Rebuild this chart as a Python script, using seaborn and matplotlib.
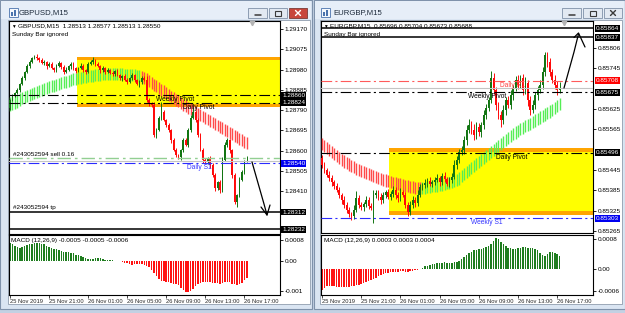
import numpy as np
import pandas as pd
import matplotlib
matplotlib.use("Agg")
import matplotlib.pyplot as plt
import seaborn as sns
from matplotlib.patches import Rectangle
from matplotlib.lines import Line2D

# ======================= DATA =======================
time_labels = ["25 Nov 2019", "25 Nov 21:00", "26 Nov 01:00", "26 Nov 05:00",
               "26 Nov 09:00", "26 Nov 13:00", "26 Nov 17:00"]
time_label_bars = [0, 16, 32, 48, 64, 80, 96]
zone_start_bar = 28  # 26 Nov 00:00

# ---- GBPUSD M15 ----
gbp_last_ohlc = [1.28513, 1.28577, 1.28513, 1.28550]
gbp_first_open = 1.28800
gbp_close = [
    1.28837, 1.28856, 1.28870, 1.28884, 1.28912, 1.28940, 1.28968, 1.28996, 1.29015, 1.29034,
    1.29039, 1.29034, 1.29025, 1.29011, 1.29015, 1.28996, 1.29006, 1.28987, 1.28978, 1.28996,
    1.29011, 1.28992, 1.28968, 1.28978, 1.28996, 1.29006, 1.28987, 1.28973, 1.28987, 1.28996,
    1.28978, 1.28968, 1.29006, 1.29015, 1.29025, 1.29006, 1.28996, 1.28978, 1.28987, 1.28968,
    1.28978, 1.28964, 1.28959, 1.28973, 1.28954, 1.28940, 1.28950, 1.28931, 1.28921, 1.28940,
    1.28954, 1.28931, 1.28912, 1.28921, 1.28940, 1.28931, 1.28837, 1.28823, 1.28814, 1.28673,
    1.28696, 1.28753, 1.28781, 1.28743, 1.28720, 1.28696, 1.28649, 1.28602, 1.28579, 1.28570,
    1.28602, 1.28649, 1.28626, 1.28696, 1.28753, 1.28781, 1.28743, 1.28673, 1.28602, 1.28556,
    1.28546, 1.28565, 1.28532, 1.28485, 1.28424, 1.28452, 1.28415, 1.28556, 1.28626, 1.28649,
    1.28602, 1.28485, 1.28359, 1.28391, 1.28462, 1.28499, 1.28546, 1.28550]
gbp_wick_up_pts = [
    5, 8, 6, 10, 5, 8, 6, 12, 8, 6,
    10, 14, 6, 8, 10, 5, 8, 12, 6, 10,
    8, 6, 10, 12, 6, 8, 10, 5, 6, 14,
    8, 6, 10, 8, 12, 6, 8, 5, 10, 6,
    8, 6, 10, 5, 8, 6, 5, 8, 10, 6,
    8, 5, 6, 8, 10, 12, 20, 8, 6, 15,
    10, 8, 45, 10, 6, 8, 5, 8, 10, 6,
    8, 12, 10, 8, 15, 20, 6, 10, 8, 12,
    10, 6, 8, 10, 8, 6, 10, 12, 15, 10,
    6, 8, 10, 6, 12, 8, 10, 27]
gbp_wick_dn_pts = [
    8, 5, 6, 5, 8, 6, 10, 5, 8, 6,
    5, 8, 10, 6, 8, 12, 6, 5, 10, 8,
    6, 10, 8, 5, 6, 12, 8, 10, 6, 5,
    10, 8, 6, 5, 8, 10, 6, 12, 8, 10,
    6, 5, 8, 10, 6, 8, 12, 6, 8, 5,
    10, 8, 6, 12, 8, 6, 8, 15, 10, 8,
    12, 6, 8, 5, 10, 8, 12, 6, 8, 10,
    15, 8, 6, 10, 8, 5, 8, 10, 6, 15,
    8, 10, 12, 8, 15, 10, 12, 8, 6, 10,
    12, 15, 10, 25, 8, 6, 10, 0]
gbp_ha_open = [
    1.28785, 1.28791, 1.28797, 1.28802, 1.28810, 1.28817, 1.28822, 1.28827, 1.28831, 1.28836,
    1.28842, 1.28847, 1.28851, 1.28856, 1.28861, 1.28865, 1.28869, 1.28873, 1.28877, 1.28880,
    1.28884, 1.28888, 1.28892, 1.28895, 1.28899, 1.28903, 1.28906, 1.28908, 1.28911, 1.28914,
    1.28917, 1.28919, 1.28921, 1.28923, 1.28924, 1.28926, 1.28927, 1.28928, 1.28929, 1.28930,
    1.28931, 1.28931, 1.28931, 1.28931, 1.28931, 1.28931, 1.28930, 1.28929, 1.28928, 1.28927,
    1.28926, 1.28925, 1.28923, 1.28922, 1.28973, 1.28968, 1.28962, 1.28954, 1.28946, 1.28938,
    1.28930, 1.28922, 1.28914, 1.28906, 1.28898, 1.28890, 1.28882, 1.28874, 1.28866, 1.28859,
    1.28852, 1.28844, 1.28837, 1.28830, 1.28823, 1.28816, 1.28809, 1.28802, 1.28795, 1.28788,
    1.28781, 1.28774, 1.28767, 1.28760, 1.28753, 1.28746, 1.28739, 1.28732, 1.28725, 1.28718,
    1.28711, 1.28704, 1.28697, 1.28690, 1.28683, 1.28676, 1.28669, 1.28663]
gbp_ha_close = [
    1.28851, 1.28855, 1.28859, 1.28862, 1.28868, 1.28875, 1.28880, 1.28885, 1.28889, 1.28894,
    1.28898, 1.28903, 1.28907, 1.28912, 1.28917, 1.28921, 1.28925, 1.28929, 1.28933, 1.28936,
    1.28940, 1.28944, 1.28948, 1.28951, 1.28955, 1.28959, 1.28962, 1.28964, 1.28967, 1.28970,
    1.28973, 1.28975, 1.28977, 1.28979, 1.28980, 1.28982, 1.28983, 1.28984, 1.28985, 1.28986,
    1.28987, 1.28987, 1.28987, 1.28987, 1.28987, 1.28987, 1.28986, 1.28985, 1.28984, 1.28983,
    1.28982, 1.28981, 1.28979, 1.28978, 1.28917, 1.28912, 1.28906, 1.28898, 1.28890, 1.28882,
    1.28874, 1.28866, 1.28858, 1.28850, 1.28842, 1.28834, 1.28826, 1.28818, 1.28810, 1.28803,
    1.28796, 1.28788, 1.28781, 1.28774, 1.28767, 1.28760, 1.28753, 1.28746, 1.28739, 1.28732,
    1.28725, 1.28718, 1.28711, 1.28704, 1.28697, 1.28690, 1.28683, 1.28676, 1.28669, 1.28662,
    1.28655, 1.28648, 1.28641, 1.28634, 1.28627, 1.28620, 1.28613, 1.28607]
gbp_macd = [
    0.00059, 0.00057, 0.00048, 0.00045, 0.00044, 0.00045, 0.00048, 0.00053, 0.00055, 0.00057,
    0.00058, 0.00059, 0.00058, 0.00057, 0.00055, 0.00051, 0.00047, 0.00042, 0.00040, 0.00039,
    0.00037, 0.00033, 0.00031, 0.00030, 0.00029, 0.00027, 0.00025, 0.00021, 0.00018, 0.00016,
    0.00013, 0.00009, 0.00006, 0.00005, 0.00006, 0.00008, 0.00009, 0.00008, 0.00006, 0.00004,
    0.00004, 0.00003, 0.00003, 0.00001, -0.00001, -0.00002, -0.00004, -0.00006, -0.00008, -0.00011,
    -0.00013, -0.00012, -0.00010, -0.00009, -0.00010, -0.00013, -0.00016, -0.00022, -0.00030, -0.00040,
    -0.00052, -0.00060, -0.00066, -0.00068, -0.00070, -0.00072, -0.00074, -0.00076, -0.00078, -0.00082,
    -0.00090, -0.00098, -0.00104, -0.00105, -0.00100, -0.00093, -0.00085, -0.00078, -0.00074, -0.00072,
    -0.00071, -0.00072, -0.00071, -0.00073, -0.00075, -0.00074, -0.00076, -0.00075, -0.00070, -0.00069,
    -0.00072, -0.00076, -0.00078, -0.00080, -0.00077, -0.00074, -0.00065, -0.00058]
gbp_macd_header = ["-0.0005", "-0.0005", "-0.0006"]
gbp_zone = [1.29038, 1.28803]
gbp_weekly_pivot = 1.28860
gbp_daily_pivot = 1.28824
gbp_sell_entry = 1.28565
gbp_bid = 1.28550
gbp_daily_s1 = 1.28540
gbp_tp = 1.28312
gbp_low_line = 1.28232
gbp_price_ticks = [1.29170, 1.29075, 1.28980, 1.28885, 1.28790, 1.28695, 1.28600, 1.28505, 1.28410]
gbp_macd_ticks = [0.00071, 0.0, -0.001]
gbp_macd_ticklabels = ["0.0008", "0.00", "-0.001"]

# ---- EURGBP M15 ----
eur_last_ohlc = [0.85696, 0.85704, 0.85673, 0.85688]
eur_first_open = 0.85480
eur_close = [
    0.85460, 0.85445, 0.85431, 0.85422, 0.85410, 0.85398, 0.85386, 0.85371, 0.85357, 0.85342,
    0.85327, 0.85315, 0.85309, 0.85327, 0.85362, 0.85342, 0.85336, 0.85345, 0.85357, 0.85339,
    0.85333, 0.85371, 0.85377, 0.85365, 0.85357, 0.85371, 0.85380, 0.85365, 0.85374, 0.85386,
    0.85371, 0.85362, 0.85380, 0.85371, 0.85342, 0.85321, 0.85342, 0.85357, 0.85348, 0.85371,
    0.85395, 0.85401, 0.85407, 0.85413, 0.85404, 0.85410, 0.85416, 0.85422, 0.85410, 0.85428,
    0.85419, 0.85404, 0.85416, 0.85425, 0.85460, 0.85475, 0.85498, 0.85504, 0.85534, 0.85563,
    0.85577, 0.85563, 0.85548, 0.85572, 0.85557, 0.85577, 0.85607, 0.85628, 0.85652, 0.85717,
    0.85681, 0.85637, 0.85607, 0.85592, 0.85622, 0.85652, 0.85637, 0.85666, 0.85687, 0.85711,
    0.85696, 0.85717, 0.85681, 0.85702, 0.85652, 0.85622, 0.85637, 0.85666, 0.85681, 0.85696,
    0.85734, 0.85784, 0.85764, 0.85734, 0.85711, 0.85696, 0.85681, 0.85688]
eur_wick_up_pts = [
    10, 8, 6, 12, 8, 6, 10, 8, 6, 12,
    8, 10, 6, 15, 20, 8, 10, 6, 12, 8,
    10, 15, 8, 10, 12, 8, 6, 10, 8, 12,
    10, 8, 12, 6, 10, 8, 12, 10, 8, 15,
    8, 6, 10, 8, 12, 6, 8, 10, 6, 8,
    10, 6, 8, 12, 15, 10, 8, 12, 10, 15,
    20, 12, 18, 15, 12, 10, 15, 12, 10, 20,
    15, 10, 8, 12, 15, 10, 12, 15, 10, 12,
    15, 10, 12, 18, 10, 12, 15, 10, 12, 15,
    15, 9, 10, 12, 10, 15, 12, 16]
eur_wick_dn_pts = [
    8, 10, 6, 8, 12, 10, 6, 8, 12, 10,
    8, 10, 12, 8, 6, 10, 8, 12, 10, 8,
    6, 45, 10, 8, 12, 10, 8, 6, 10, 8,
    12, 10, 8, 6, 10, 12, 8, 10, 12, 8,
    6, 10, 8, 12, 6, 10, 8, 6, 12, 10,
    8, 6, 10, 8, 6, 12, 8, 10, 12, 15,
    10, 12, 15, 10, 12, 15, 10, 12, 10, 8,
    12, 15, 10, 20, 12, 15, 10, 12, 15, 10,
    12, 10, 15, 12, 18, 15, 10, 12, 15, 10,
    12, 10, 15, 12, 10, 12, 15, 8]
eur_ha_open = [
    0.85540, 0.85534, 0.85528, 0.85522, 0.85516, 0.85510, 0.85505, 0.85499, 0.85493, 0.85488,
    0.85484, 0.85479, 0.85475, 0.85471, 0.85467, 0.85463, 0.85460, 0.85457, 0.85454, 0.85451,
    0.85449, 0.85446, 0.85443, 0.85440, 0.85437, 0.85434, 0.85432, 0.85430, 0.85427, 0.85425,
    0.85423, 0.85421, 0.85420, 0.85418, 0.85416, 0.85415, 0.85414, 0.85413, 0.85411, 0.85410,
    0.85410, 0.85374, 0.85375, 0.85377, 0.85378, 0.85379, 0.85380, 0.85381, 0.85383, 0.85384,
    0.85386, 0.85388, 0.85389, 0.85392, 0.85395, 0.85398, 0.85402, 0.85410, 0.85415, 0.85421,
    0.85427, 0.85433, 0.85439, 0.85445, 0.85451, 0.85457, 0.85463, 0.85469, 0.85474, 0.85480,
    0.85486, 0.85492, 0.85498, 0.85504, 0.85510, 0.85516, 0.85522, 0.85528, 0.85533, 0.85538,
    0.85542, 0.85547, 0.85551, 0.85556, 0.85560, 0.85564, 0.85569, 0.85573, 0.85578, 0.85582,
    0.85587, 0.85591, 0.85595, 0.85600, 0.85604, 0.85610, 0.85616, 0.85622]
eur_ha_close = [
    0.85504, 0.85498, 0.85492, 0.85486, 0.85480, 0.85474, 0.85469, 0.85463, 0.85457, 0.85452,
    0.85448, 0.85443, 0.85439, 0.85435, 0.85431, 0.85427, 0.85424, 0.85421, 0.85418, 0.85415,
    0.85413, 0.85410, 0.85407, 0.85404, 0.85401, 0.85398, 0.85396, 0.85394, 0.85391, 0.85389,
    0.85387, 0.85385, 0.85384, 0.85382, 0.85380, 0.85379, 0.85378, 0.85377, 0.85375, 0.85374,
    0.85374, 0.85410, 0.85411, 0.85413, 0.85414, 0.85415, 0.85416, 0.85417, 0.85419, 0.85420,
    0.85422, 0.85424, 0.85425, 0.85428, 0.85431, 0.85434, 0.85438, 0.85446, 0.85451, 0.85457,
    0.85463, 0.85469, 0.85475, 0.85481, 0.85487, 0.85493, 0.85499, 0.85505, 0.85510, 0.85516,
    0.85522, 0.85528, 0.85534, 0.85540, 0.85546, 0.85552, 0.85558, 0.85564, 0.85569, 0.85574,
    0.85578, 0.85583, 0.85587, 0.85592, 0.85596, 0.85600, 0.85605, 0.85609, 0.85614, 0.85618,
    0.85623, 0.85627, 0.85631, 0.85636, 0.85640, 0.85646, 0.85652, 0.85658]
eur_macd = [
    -0.00057, -0.00051, -0.00047, -0.00046, -0.00046, -0.00047, -0.00048, -0.00048, -0.00049, -0.00049,
    -0.00048, -0.00048, -0.00047, -0.00046, -0.00044, -0.00042, -0.00040, -0.00037, -0.00035, -0.00032,
    -0.00029, -0.00026, -0.00023, -0.00020, -0.00017, -0.00014, -0.00012, -0.00011, -0.00009, -0.00009,
    -0.00008, -0.00007, -0.00006, -0.00006, -0.00007, -0.00008, -0.00006, -0.00005, -0.00004, -0.00003,
    -0.00001, 0.00004, 0.00007, 0.00009, 0.00011, 0.00013, 0.00014, 0.00016, 0.00016, 0.00017,
    0.00018, 0.00017, 0.00016, 0.00016, 0.00018, 0.00020, 0.00022, 0.00026, 0.00032, 0.00038,
    0.00043, 0.00047, 0.00050, 0.00052, 0.00054, 0.00055, 0.00057, 0.00059, 0.00062, 0.00068,
    0.00077, 0.00083, 0.00080, 0.00074, 0.00068, 0.00061, 0.00057, 0.00056, 0.00055, 0.00054,
    0.00056, 0.00058, 0.00059, 0.00059, 0.00057, 0.00058, 0.00056, 0.00054, 0.00050, 0.00044,
    0.00037, 0.00034, 0.00040, 0.00045, 0.00046, 0.00044, 0.00041, 0.00036]
eur_macd_header = ["0.0003", "0.0003", "0.0004"]
eur_zone = [0.85510, 0.85312]
eur_line_top = 0.85864
eur_line_target = 0.85837
eur_daily_r1 = 0.85708
eur_bid = 0.85688
eur_weekly_pivot = 0.85675
eur_daily_pivot = 0.85496
eur_weekly_s1 = 0.85303
eur_price_ticks = [0.85806, 0.85745, 0.85625, 0.85565, 0.85445, 0.85385, 0.85325, 0.85265]
eur_macd_ticks = [0.0008, 0.0, -0.0006]
eur_macd_ticklabels = ["0.0008", "0.00", "-0.0006"]

# ======================= STYLE / FIGURE =======================
sns.set_style("white")
plt.rcParams['font.family'] = ['Liberation Sans', 'DejaVu Sans']

W, H = 625, 313
fig = plt.figure(figsize=(W / 100, H / 100), dpi=100)
fig.patch.set_facecolor('#c3d1e3')

FS = 4.6
FS_TIME = 4.15
BULL, BEAR = '#127512', '#ff0a0a'
HA_UP, HA_DN = '#55ee55', '#ff4a4a'
DASHDOT = (0, (9.6, 2.9, 1.9, 2.9))


def fx(x):
    return x / W


def fy(y):
    return 1 - y / H


def rect(x0, y0, x1, y1, fc, ec='none', lw=0.0, z=-5):
    fig.add_artist(Rectangle((fx(x0), fy(y1)), (x1 - x0) / W, (y1 - y0) / H,
                             transform=fig.transFigure, facecolor=fc,
                             edgecolor=ec, linewidth=lw, zorder=z))


def ftext(x, y, s, size=FS, color='black', ha='left', **kw):
    fig.text(fx(x), fy(y), s, fontsize=size, color=color, va='center', ha=ha, **kw)


def fline(pts, lw=0.9, color='black', z=20):
    fig.add_artist(Line2D([fx(p[0]) for p in pts], [fy(p[1]) for p in pts],
                          transform=fig.transFigure, color=color, lw=lw, zorder=z,
                          solid_capstyle='round', solid_joinstyle='round'))


# ---- window chrome ----
windows = [dict(x0=0, x1=312, cx0=8, cx1=310, title='GBPUSD,M15', tx=19,
                buttons=[(248, 267), (269, 287), (289, 307)], red=True),
           dict(x0=314, x1=625, cx0=320, cx1=622, title='EURGBP,M15', tx=333,
                buttons=[(562, 581), (583, 602), (604, 622)], red=False)]
for w in windows:
    rect(w['x0'], 0, w['x1'], 309, '#dae5f2', ec='#7f92ab', lw=0.8, z=-6)
    rect(w['x0'] + 1, 1, w['x1'] - 1, 19, '#e6eef8', z=-5.5)
    rect(w['cx0'], 20, w['cx1'], 304, 'white', ec='#8f9cad', lw=0.6, z=-5)
    ix = w['cx0'] + 1
    rect(ix, 8, ix + 9, 17, '#f4f8fd', ec='#4a73ad', lw=0.6, z=-4)
    rect(ix + 2, 12, ix + 4, 16, '#4a73ad', z=-3.5)
    rect(ix + 5, 10, ix + 7, 16, '#4a73ad', z=-3.5)
    ftext(w['tx'], 13, w['title'], size=5.6, color='#1d2a3a')
    for k, (bx0, bx1) in enumerate(w['buttons']):
        is_close = (k == 2 and w['red'])
        rect(bx0, 8, bx1, 18, '#c8463c' if is_close else '#e2e9f2',
             ec='#7a3a35' if is_close else '#7f91a8', lw=0.6, z=-4)
        cx = (bx0 + bx1) / 2
        gc = 'white' if is_close else '#3a3a3a'
        if k == 0:
            fline([(cx - 3, 15.2), (cx + 3, 15.2)], lw=1.1, color=gc)
        elif k == 1:
            rect(cx - 3, 10.5, cx + 3, 15.5, 'none', ec=gc, lw=0.8, z=21)
        else:
            fline([(cx - 2.5, 10.5), (cx + 2.5, 15.5)], lw=1.0, color=gc)
            fline([(cx - 2.5, 15.5), (cx + 2.5, 10.5)], lw=1.0, color=gc)

# ---- axes ----
axL = fig.add_axes([fx(9), fy(234), 271 / W, 213 / H])
axLm = fig.add_axes([fx(9), fy(295), 271 / W, 60 / H])
axR = fig.add_axes([fx(321), fy(233), 272 / W, 212 / H])
axRm = fig.add_axes([fx(321), fy(295), 272 / W, 60 / H])
XLIM = (-0.41, 110.6)


def style_axes(ax):
    ax.set_facecolor('white')
    for s in ax.spines.values():
        s.set_color('black')
        s.set_linewidth(0.8)
    ax.yaxis.tick_right()
    ax.tick_params(axis='y', length=2, width=0.6, pad=1.5, labelsize=FS,
                   colors='black', direction='out', right=True, left=False)
    ax.set_xlim(*XLIM)


def draw_candles(ax, first_open, close, wup, wdn):
    c = np.asarray(close, dtype=float)
    o = np.r_[first_open, c[:-1]]
    hi = np.maximum(o, c) + np.asarray(wup) * 1e-5
    lo = np.minimum(o, c) - np.asarray(wdn) * 1e-5
    x = np.arange(len(c))
    col = np.where(c >= o, BULL, BEAR)
    ax.vlines(x, lo, hi, colors=col, lw=0.7, zorder=4)
    body = np.maximum(np.abs(c - o), 0.00002)
    ax.bar(x, body, bottom=np.minimum(o, c), width=0.7, color=col, lw=0, zorder=5)


def draw_ha(ax, ha_o, ha_c):
    ho, hc = np.asarray(ha_o), np.asarray(ha_c)
    x = np.arange(len(ho))
    col = np.where(hc >= ho, HA_UP, HA_DN)
    ax.vlines(x, np.minimum(ho, hc), np.maximum(ho, hc), colors=col, lw=1.0, zorder=3)


def draw_zone(ax, zone, strip):
    top, bot = zone
    ax.add_patch(Rectangle((zone_start_bar - 0.5, bot), 300, top - bot,
                           facecolor='#ffff00', edgecolor='none', zorder=1))
    ax.add_patch(Rectangle((zone_start_bar - 0.5, top - strip), 300, strip,
                           facecolor='#ffa500', edgecolor='none', zorder=1.5))
    ax.add_patch(Rectangle((zone_start_bar - 0.5, bot), 300, strip,
                           facecolor='#ffa500', edgecolor='none', zorder=1.5))


def level(ax, y, color, ls, lw=0.8):
    ax.axhline(y, color=color, ls=ls, lw=lw, zorder=6)


def level_text(ax, bar, y, s, color='black'):
    ax.annotate(s, (bar, y), xytext=(0, -0.6), textcoords='offset points',
                va='top', ha='left', fontsize=FS + 0.2, color=color, zorder=7)


def box(ax, y, s, fc, xpos=1.008):
    ax.text(xpos, y, s, transform=ax.get_yaxis_transform(), fontsize=FS,
            color='white', va='center', ha='left', zorder=10, clip_on=False,
            bbox=dict(boxstyle='square,pad=0.15', fc=fc, ec='none'))


def macd_panel(ax, values, ylim, ticks, ticklabels):
    df = pd.DataFrame({'bar': np.arange(len(values)), 'macd': values})
    df['sign'] = np.where(df['macd'] >= 0, 'pos', 'neg')
    sns.barplot(data=df, x='bar', y='macd', hue='sign',
                palette={'pos': '#1f7d1f', 'neg': '#ff1212'},
                native_scale=True, dodge=False, width=0.62, saturation=1,
                errorbar=None, legend=False, linewidth=0, ax=ax)
    ax.set_xlabel('')
    ax.set_ylabel('')
    style_axes(ax)
    ax.set_ylim(*ylim)
    ax.set_yticks(ticks)
    ax.set_yticklabels(ticklabels)
    ax.set_xticks(time_label_bars)
    ax.set_xticklabels(time_labels, ha='left')
    ax.tick_params(axis='x', length=2, width=0.6, pad=1, labelsize=FS_TIME,
                   direction='out', bottom=True)


# ---------------- GBPUSD ----------------
style_axes(axL)
axL.set_ylim(1.28209, 1.29208)
axL.set_xticks([])
axL.set_yticks(gbp_price_ticks)
axL.set_yticklabels([f'{v:.5f}' for v in gbp_price_ticks])
draw_zone(axL, gbp_zone, 0.00014)
draw_ha(axL, gbp_ha_open, gbp_ha_close)
draw_candles(axL, gbp_first_open, gbp_close, gbp_wick_up_pts, gbp_wick_dn_pts)
level(axL, gbp_weekly_pivot, 'black', DASHDOT)
level(axL, gbp_daily_pivot, 'black', DASHDOT)
level(axL, gbp_sell_entry, '#92cf92', DASHDOT, lw=1.0)
level(axL, gbp_bid, '#c4c4c4', '-', lw=0.8)
level(axL, gbp_daily_s1, '#2b2bff', DASHDOT)
level(axL, gbp_tp, 'black', '-', lw=1.1)
level(axL, gbp_low_line, 'black', '-', lw=1.1)
level_text(axL, 60, gbp_weekly_pivot, 'Weekly Pivot')
level_text(axL, 71, gbp_daily_pivot, 'Daily Pivot')
level_text(axL, 72.5, gbp_daily_s1, 'Daily S1', color='#3535ff')
box(axL, gbp_weekly_pivot, f'{gbp_weekly_pivot:.5f}', 'black')
box(axL, gbp_daily_pivot, f'{gbp_daily_pivot:.5f}', 'black')
box(axL, gbp_daily_s1, f'{gbp_daily_s1:.5f}', '#0000f0')
box(axL, gbp_tp, f'{gbp_tp:.5f}', 'black')
box(axL, gbp_low_line, f'{gbp_low_line:.5f}', 'black')
macd_panel(axLm, gbp_macd, (-0.00114, 0.00086), gbp_macd_ticks, gbp_macd_ticklabels)

# ---------------- EURGBP ----------------
style_axes(axR)
axR.set_ylim(0.85259, 0.85885)
axR.set_xticks([])
axR.set_yticks(eur_price_ticks)
axR.set_yticklabels([f'{v:.5f}' for v in eur_price_ticks])
draw_zone(axR, eur_zone, 0.00012)
draw_ha(axR, eur_ha_open, eur_ha_close)
draw_candles(axR, eur_first_open, eur_close, eur_wick_up_pts, eur_wick_dn_pts)
level(axR, eur_line_top, 'black', '-', lw=1.1)
level(axR, eur_line_target, 'black', '-', lw=1.1)
level(axR, eur_daily_r1, '#ff5a5a', DASHDOT)
level(axR, eur_bid, '#c4c4c4', '-', lw=0.8)
level(axR, eur_weekly_pivot, 'black', DASHDOT)
level(axR, eur_daily_pivot, 'black', DASHDOT)
level(axR, eur_weekly_s1, '#2b2bff', DASHDOT)
level_text(axR, 72.5, eur_daily_r1, 'Daily R1', color='#ff4040')
level_text(axR, 59.5, eur_weekly_pivot, 'Weekly Pivot')
level_text(axR, 71, eur_daily_pivot, 'Daily Pivot')
level_text(axR, 61, eur_weekly_s1, 'Weekly S1', color='#3535ff')
box(axR, eur_line_top, f'{eur_line_top:.5f}', 'black', xpos=1.01)
box(axR, eur_line_target, f'{eur_line_target:.5f}', 'black', xpos=1.01)
box(axR, eur_daily_r1, f'{eur_daily_r1:.5f}', '#ff0000', xpos=1.01)
box(axR, eur_weekly_pivot, f'{eur_weekly_pivot:.5f}', 'black', xpos=1.01)
box(axR, eur_daily_pivot, f'{eur_daily_pivot:.5f}', 'black', xpos=1.01)
box(axR, eur_weekly_s1, f'{eur_weekly_s1:.5f}', '#0000f0', xpos=1.01)
macd_panel(axRm, eur_macd, (-0.000703, 0.000919), eur_macd_ticks, eur_macd_ticklabels)

# ---------------- header / annotation texts ----------------
ftext(11, 26, '\u25BC', size=3.4)
ftext(18, 26, 'GBPUSD,M15  ' + ' '.join(f'{v:.5f}' for v in gbp_last_ohlc))
ftext(12, 34.5, 'Sunday Bar ignored')
ftext(323, 26, '\u25BC', size=3.4)
ftext(330, 26, 'EURGBP,M15  ' + ' '.join(f'{v:.5f}' for v in eur_last_ohlc))
ftext(324, 34.5, 'Sunday Bar ignored')
ftext(11, 240.5, 'MACD (12,26,9) ' + ' '.join(gbp_macd_header))
ftext(324, 240.5, 'MACD (12,26,9) ' + ' '.join(eur_macd_header))
ftext(13, 154.5, '#243052594 sell 0.16')
ftext(13, 207.5, '#243052594 tp')

# chart-shift markers
for sx in (252, 564):
    fig.add_artist(Line2D([fx(sx)], [fy(23)], marker='v', ms=3.2, color='#b4b4b4',
                          lw=0, transform=fig.transFigure, zorder=20))

# hand-drawn arrows
fline([(252, 162), (256, 176), (260, 190), (264, 204), (267, 215)], lw=0.9)
fline([(261, 207), (267, 215), (270, 205)], lw=0.9)
fline([(564, 88), (569, 70), (574, 52), (578.5, 34)], lw=0.9)
fline([(574, 37.5), (578.5, 33), (585, 47)], lw=0.9)

fig.savefig('out.png', dpi=100, facecolor=fig.get_facecolor())
